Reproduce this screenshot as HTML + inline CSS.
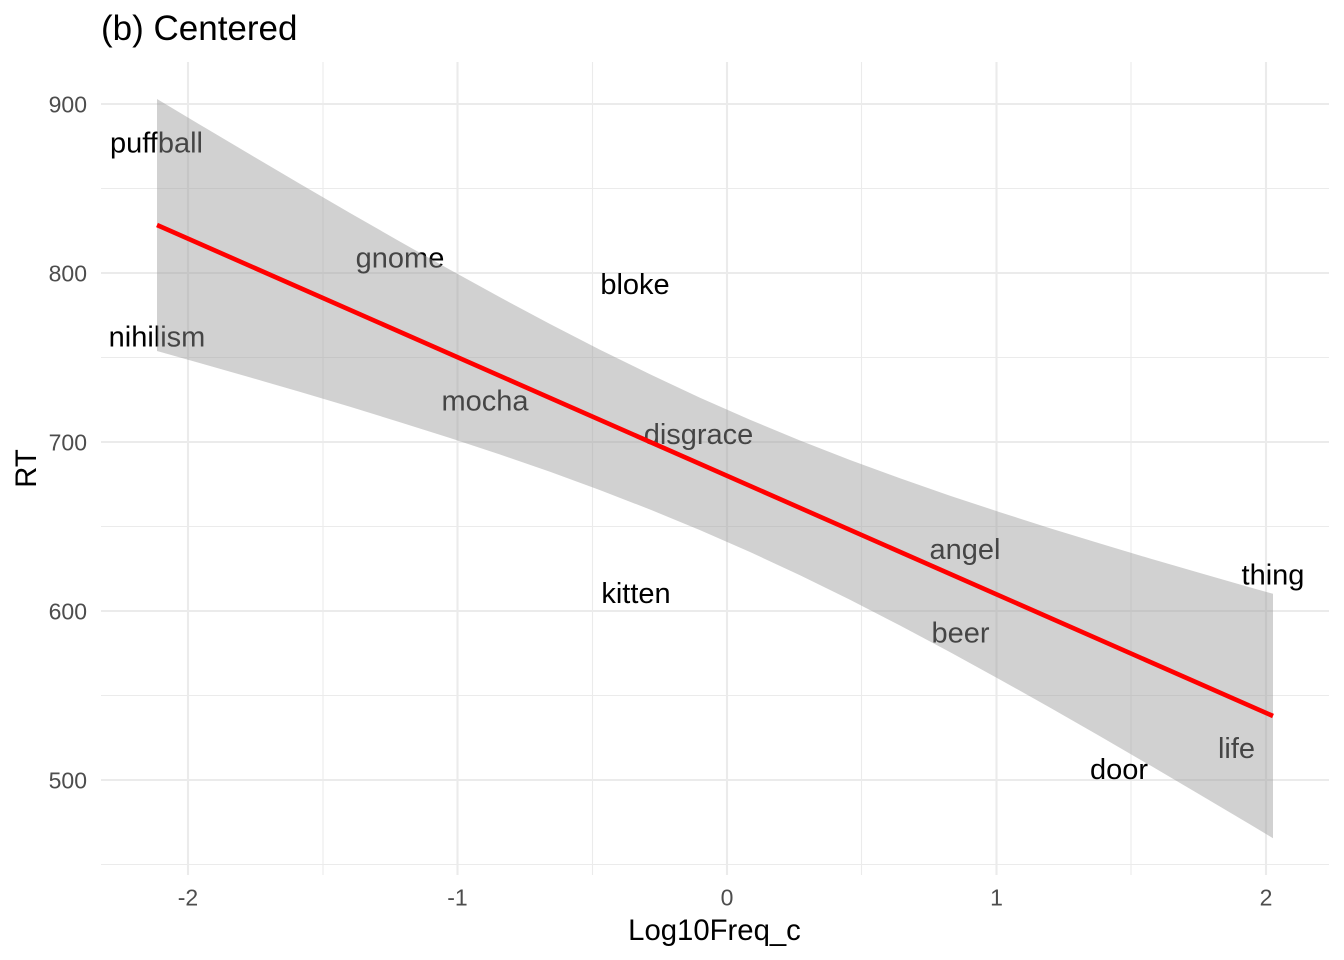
<!DOCTYPE html>
<html>
<head>
<meta charset="utf-8">
<style>
html,body{margin:0;padding:0;background:#fff;}
svg{display:block;}
text{font-family:"Liberation Sans",Arial,sans-serif;}
</style>
</head>
<body>
<svg width="1344" height="960" viewBox="0 0 1344 960" xmlns="http://www.w3.org/2000/svg">
<rect width="1344" height="960" fill="#fff"/>
<!-- minor grid -->
<g stroke="#EBEBEB" stroke-width="1.1">
<line x1="101" x2="1329" y1="188.5" y2="188.5"/>
<line x1="101" x2="1329" y1="357.5" y2="357.5"/>
<line x1="101" x2="1329" y1="526.5" y2="526.5"/>
<line x1="101" x2="1329" y1="695.5" y2="695.5"/>
<line x1="101" x2="1329" y1="864.5" y2="864.5"/>
<line y1="62" y2="875" x1="323" x2="323"/>
<line y1="62" y2="875" x1="592.5" x2="592.5"/>
<line y1="62" y2="875" x1="861.5" x2="861.5"/>
<line y1="62" y2="875" x1="1131" x2="1131"/>
</g>
<!-- major grid -->
<g stroke="#EBEBEB" stroke-width="2.1">
<line x1="101" x2="1329" y1="104" y2="104"/>
<line x1="101" x2="1329" y1="273" y2="273"/>
<line x1="101" x2="1329" y1="442" y2="442"/>
<line x1="101" x2="1329" y1="611" y2="611"/>
<line x1="101" x2="1329" y1="780" y2="780"/>
<line y1="62" y2="875" x1="188" x2="188"/>
<line y1="62" y2="875" x1="457.5" x2="457.5"/>
<line y1="62" y2="875" x1="727" x2="727"/>
<line y1="62" y2="875" x1="996.5" x2="996.5"/>
<line y1="62" y2="875" x1="1266" x2="1266"/>
</g>
<!-- word labels -->
<g font-size="29" fill="#000" text-anchor="middle">
<text x="156.5" y="152.5">puffball</text>
<text x="157" y="346.5">nihilism</text>
<text x="400" y="267.5">gnome</text>
<text x="635" y="294">bloke</text>
<text x="485" y="410.5">mocha</text>
<text x="698.5" y="444">disgrace</text>
<text x="636" y="603">kitten</text>
<text x="965" y="559">angel</text>
<text x="960.5" y="642.5">beer</text>
<text x="1273" y="584.5">thing</text>
<text x="1236.5" y="758">life</text>
<text x="1119" y="779">door</text>
</g>
<!-- confidence ribbon -->
<polygon fill="#999999" fill-opacity="0.45" points="157,99.0 200,124.7 250,154.4 300,183.9 350,213.0 400,241.6 450,269.8 500,297.3 550,324.0 600,349.7 650,374.3 700,397.7 750,419.8 800,440.5 850,460.0 900,478.3 950,495.7 1000,512.2 1050,528.2 1100,543.5 1150,558.5 1200,573.0 1250,587.4 1273,593.8 1273,838.2 1250,824.4 1200,794.8 1150,765.3 1100,736.3 1050,707.6 1000,679.6 950,652.1 900,625.5 850,599.8 800,575.3 750,552.0 700,530.1 650,509.5 600,490.1 550,471.8 500,454.5 450,438.0 400,422.2 350,406.8 300,391.9 250,377.4 200,363.1 157,351.0"/>
<!-- regression line -->
<line x1="157" y1="225" x2="1273" y2="716" stroke="#FF0000" stroke-width="4.6"/>
<!-- y tick labels -->
<g font-size="23" fill="#4D4D4D" text-anchor="end">
<text x="87" y="112.5">900</text>
<text x="87" y="281.5">800</text>
<text x="87" y="450.5">700</text>
<text x="87" y="619.5">600</text>
<text x="87" y="788.5">500</text>
</g>
<!-- x tick labels -->
<g font-size="23" fill="#4D4D4D" text-anchor="middle">
<text x="188" y="905.5">-2</text>
<text x="457.5" y="905.5">-1</text>
<text x="727" y="905.5">0</text>
<text x="996.5" y="905.5">1</text>
<text x="1266" y="905.5">2</text>
</g>
<!-- axis titles -->
<text x="714.5" y="940" font-size="29.3" fill="#000" text-anchor="middle">Log10Freq_c</text>
<text transform="translate(36,468.5) rotate(-90)" font-size="29.3" fill="#000" text-anchor="middle">RT</text>
<!-- title -->
<text x="101" y="40" font-size="35" fill="#000">(b) Centered</text>
</svg>
</body>
</html>
